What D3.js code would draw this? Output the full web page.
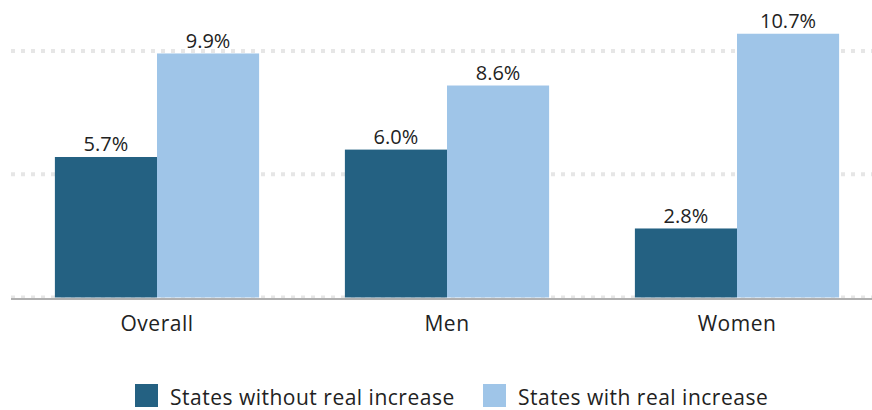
<!DOCTYPE html>
<html><head><meta charset="utf-8">
<script src="https://cdn.jsdelivr.net/npm/d3@7"></script>
<style>body{margin:0;background:#fff;} svg{display:block;font-family:"Open Sans", sans-serif;}</style>
</head><body><svg id="chart" width="872" height="410"></svg>
<script>
const categories = ["Overall", "Men", "Women"];
const seriesNames = ["States without real increase", "States with real increase"];
const withoutIncrease = [5.7, 6.0, 2.8];
const withIncrease = [9.9, 8.6, 10.7];
const gridTicks = [0, 5, 10];
const colors = ["#246182", "#9fc5e8"];

const svg = d3.select("#chart");
const x0 = d3.scaleBand().domain(categories).range([12, 882]).paddingInner(0).paddingOuter(0);
const x1 = d3.scaleBand().domain(seriesNames).range([0, x0.bandwidth()]).paddingInner(0).paddingOuter(0.42);
const y = d3.scaleLinear().domain([0, 10]).range([297.5, 51]);

// gridlines
svg.append("g").selectAll("line").data(gridTicks).join("line")
  .attr("x1", 11).attr("x2", 872)
  .attr("y1", d => y(d)).attr("y2", d => y(d))
  .attr("stroke", "#e6e6e6").attr("stroke-width", 4).attr("stroke-dasharray", "4,6");

const data = categories.map((c, i) => ({cat: c, vals: [withoutIncrease[i], withIncrease[i]]}));

const g = svg.append("g").selectAll("g").data(data).join("g")
  .attr("transform", d => `translate(${x0(d.cat)},0)`);
g.selectAll("rect").data(d => d.vals.map((v, j) => ({v, s: seriesNames[j], j}))).join("rect")
  .attr("x", d => x1(d.s)).attr("width", x1.bandwidth())
  .attr("y", d => y(d.v)).attr("height", d => y(0) - y(d.v))
  .attr("fill", d => colors[d.j]);
g.selectAll("text.val").data(d => d.vals.map((v, j) => ({v, s: seriesNames[j], j}))).join("text")
  .attr("class", "val")
  .attr("x", d => x1(d.s) + x1.bandwidth() / 2).attr("y", d => y(d.v) - 5.5)
  .attr("text-anchor", "middle").attr("font-size", 20).attr("fill", "#222")
  .text(d => d3.format(".1f")(d.v) + "%");

// baseline
svg.append("line").attr("x1", 11).attr("x2", 872).attr("y1", y(0) + 1.5).attr("y2", y(0) + 1.5)
  .attr("stroke", "#b0b0b0").attr("stroke-width", 2);

// x axis labels
const xAxis = svg.append("g").attr("transform", `translate(0,${y(0) + 2})`)
  .call(d3.axisBottom(x0).tickSize(0).tickPadding(17));
xAxis.select(".domain").remove();
xAxis.selectAll("text").attr("font-size", 21).attr("letter-spacing", 0.5).attr("fill", "#222")
  .attr("font-family", "'Open Sans', sans-serif");

// legend
const legendX = [135, 483];
const lg = svg.append("g").selectAll("g").data(seriesNames).join("g")
  .attr("transform", (d, i) => `translate(${legendX[i]},384)`);
lg.append("rect").attr("width", 23).attr("height", 23).attr("fill", (d, i) => colors[i]);
lg.append("text").attr("x", 35).attr("y", 20.5).attr("font-size", 21).attr("letter-spacing", 0.5)
  .attr("fill", "#222").text(d => d);
</script></body></html>
